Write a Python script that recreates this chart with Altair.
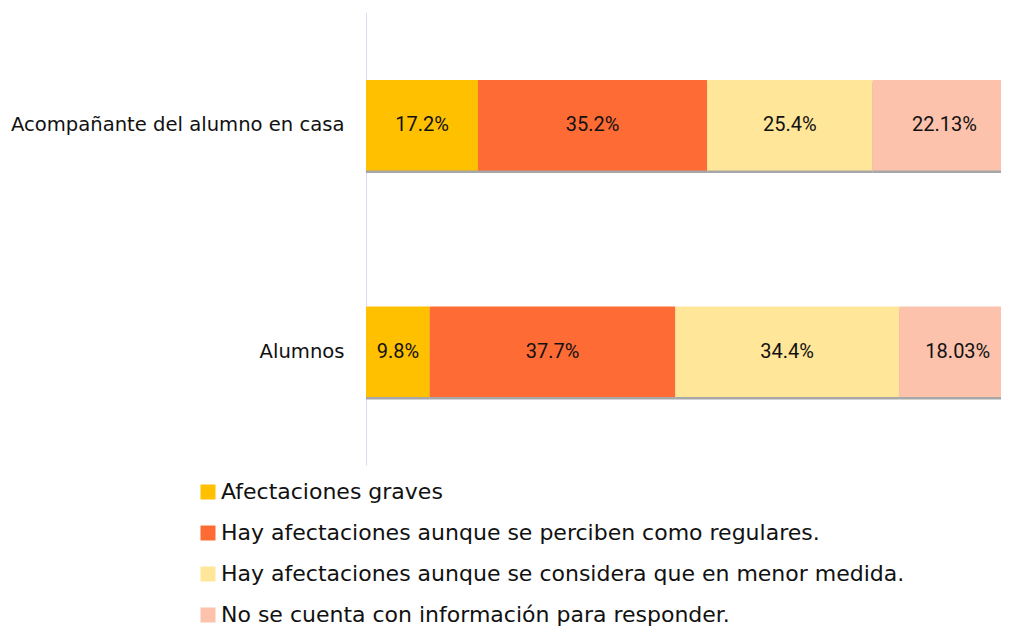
import altair as alt
import pandas as pd

categories = ["Acompañante del alumno en casa", "Alumnos"]
series = [
    "Afectaciones graves",
    "Hay afectaciones aunque se perciben como regulares.",
    "Hay afectaciones aunque se considera que en menor medida.",
    "No se cuenta con información para responder.",
]
values_acomp = [17.2, 35.2, 25.4, 22.13]
values_alumnos = [9.8, 37.7, 34.4, 18.03]
labels_acomp = ["17.2%", "35.2%", "25.4%", "22.13%"]
labels_alumnos = ["9.8%", "37.7%", "34.4%", "18.03%"]
colors = ["#FFC000", "#FF6B35", "#FFE699", "#FCC2AC"]

rows = []
for cat, vals, labs in [(categories[0], values_acomp, labels_acomp),
                        (categories[1], values_alumnos, labels_alumnos)]:
    for i, (s, v, l) in enumerate(zip(series, vals, labs)):
        rows.append({"cat": cat, "serie": s, "value": v, "label": l, "order": i})
df = pd.DataFrame(rows)

FONT = "DejaVu Sans"

base = alt.Chart(df).transform_stack(
    stack="value", groupby=["cat"], as_=["x0", "x1"],
    sort=[alt.SortField("order", order="ascending")]
).transform_calculate(mid="(datum.x0 + datum.x1) / 2")

xscale = alt.Scale(domain=[0, 97.55], nice=False, zero=False)
yenc = alt.Y("cat:N", sort=categories, title=None,
             scale=alt.Scale(paddingInner=0.6, paddingOuter=0.3),
             axis=alt.Axis(ticks=False, domainColor="#E2D6F4", domainWidth=1,
                           labelFont=FONT, labelFontSize=19.6, labelColor="#111111",
                           labelPadding=22, labelLimit=400, grid=False))

shadow = base.mark_bar(color="#8a8a8a", opacity=0.75, yOffset=2.5, clip=True).encode(
    x=alt.X("x0:Q", scale=xscale, axis=None),
    x2="x1:Q",
    y=yenc,
)

bars = base.mark_bar(clip=True).encode(
    x=alt.X("x0:Q", scale=xscale, axis=None),
    x2="x1:Q",
    y=yenc,
    color=alt.Color("serie:N", sort=series,
                    scale=alt.Scale(domain=series, range=colors),
                    legend=alt.Legend(title=None, orient="none", legendX=-169, legendY=469,
                                      symbolType="square", symbolSize=225,
                                      symbolStrokeWidth=0,
                                      labelFont=FONT, labelFontSize=22,
                                      labelColor="#111111", labelLimit=900,
                                      rowPadding=19, labelOffset=2)),
    order=alt.Order("order:Q"),
)

text = base.mark_text(font="Roboto", fontSize=20, color="#111111").encode(
    x=alt.X("mid:Q", scale=xscale, axis=None),
    y=yenc,
    text="label:N",
)

chart = alt.layer(shadow, bars, text).properties(
    width=635, height=453,
    autosize=alt.AutoSizeParams(type="none"),
    padding={"left": 358, "top": 4, "right": 0, "bottom": 161},
).configure_view(stroke=None)

chart.save("out.html", embed_options={"renderer": "svg", "actions": False})
